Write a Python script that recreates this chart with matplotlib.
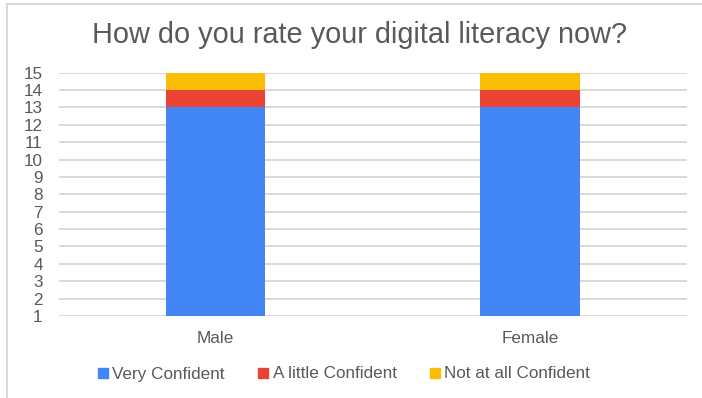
import matplotlib
matplotlib.use("Agg")
import matplotlib.pyplot as plt
from matplotlib.lines import Line2D
import numpy as np

categories = ["Male", "Female"]
very_confident = [13, 13]
little_confident = [1, 1]
not_confident = [1, 1]
series_names = ["Very Confident", "A little Confident", "Not at all Confident"]
y_ticks = list(range(1, 16))

colors = ["#4285F4", "#EA4335", "#FBBC04"]
text_color = "#595959"
plt.rcParams["font.family"] = ["Liberation Sans", "DejaVu Sans"]

fig = plt.figure(figsize=(7.02, 3.98), dpi=100)
ax = fig.add_axes([58.7 / 702, 1 - 316 / 398, (687 - 58.7) / 702, (316 - 72.7) / 398])

x = np.arange(len(categories))
width = 0.316
b1 = np.array(very_confident)
b2 = b1 + np.array(little_confident)
ax.bar(x, very_confident, width, color=colors[0], zorder=2, label=series_names[0])
ax.bar(x, little_confident, width, bottom=b1, color=colors[1], zorder=2, label=series_names[1])
ax.bar(x, not_confident, width, bottom=b2, color=colors[2], zorder=2, label=series_names[2])

ax.set_xlim(-0.5, len(categories) - 0.5)
ax.set_ylim(1, 15)
ax.set_yticks(y_ticks)
ax.set_yticklabels([str(v) for v in y_ticks])
ax.set_xticks(x)
ax.set_xticklabels(categories)
ax.tick_params(axis="y", length=0, pad=11.5, labelsize=12.3, labelcolor=text_color)
ax.tick_params(axis="x", length=0, pad=11, labelsize=12.3, labelcolor=text_color)
ax.grid(axis="y", color="#D6D6D6", linewidth=1.3, zorder=0)
for s in ax.spines.values():
    s.set_visible(False)

fig.text(359.5 / 702, 1 - 43 / 398, "How do you rate your digital literacy now?",
         ha="center", va="baseline", fontsize=20.8, color=text_color)

handles = [Line2D([], [], marker="s", linestyle="none", markersize=7,
                  markerfacecolor=c, markeredgecolor=c) for c in colors]
fig.legend(handles, series_names, loc="center", bbox_to_anchor=(344 / 702, 1 - 374 / 398),
           ncol=3, frameon=False, fontsize=12.3, handlelength=0.6, handletextpad=0.25,
           columnspacing=1.95, labelcolor=text_color, borderaxespad=0)

# outer chart border (left and top edges visible)
fig.add_artist(Line2D([7 / 702, 7 / 702], [0, 1 - 4 / 398], transform=fig.transFigure,
                      color="#D9D9D9", linewidth=1.5))
fig.add_artist(Line2D([7 / 702, 1], [1 - 4 / 398, 1 - 4 / 398], transform=fig.transFigure,
                      color="#D9D9D9", linewidth=1.5))

fig.savefig("out.png", dpi=100)
